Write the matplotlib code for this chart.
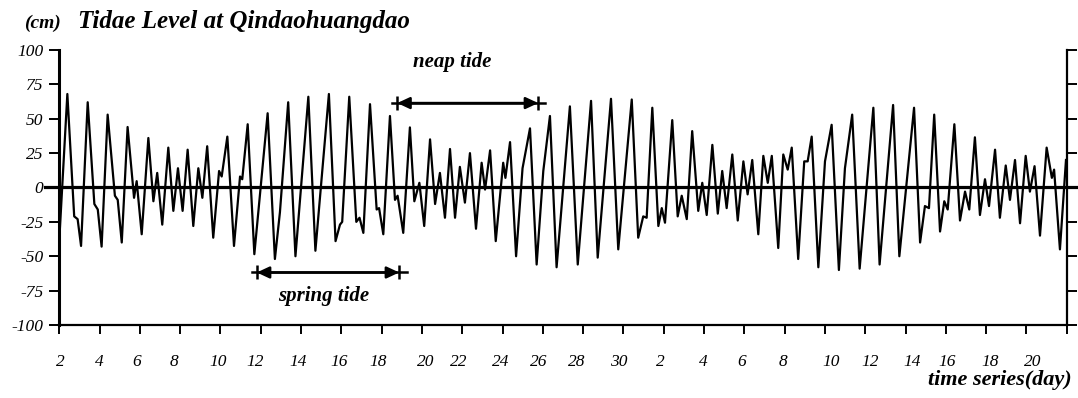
import matplotlib.pyplot as plt

plt.rcParams['font.family'] = ['Liberation Serif', 'DejaVu Serif']
plt.rcParams['axes.unicode_minus'] = False

# turning points of the tide curve: time in days from the start of the record, level in cm
t_day = [0.00, 0.40, 0.74, 0.91, 1.08, 1.41, 1.74, 1.91, 2.10, 2.40,
         2.76, 2.90, 3.10, 3.39, 3.71, 3.84, 4.09, 4.42, 4.67, 4.86,
         5.11, 5.41, 5.66, 5.89, 6.12, 6.37, 6.65, 6.90, 7.10, 7.34,
         7.64, 7.93, 8.06, 8.34, 8.67, 8.97, 9.08, 9.35, 9.68,
         10.34, 10.70, 10.95, 11.36, 11.72, 12.36, 12.71, 13.38, 13.71, 13.93,
         14.04, 14.39, 14.74, 14.90, 15.09, 15.42, 15.75, 15.87, 16.08, 16.41,
         16.66, 16.79, 17.07, 17.40, 17.62, 17.87, 18.11, 18.40, 18.65, 18.89,
         19.14, 19.39,
         19.64, 19.88, 20.13, 20.38, 20.68, 20.96, 21.13, 21.38, 21.66, 22.03,
         22.14, 22.37, 22.67, 22.99, 23.36, 23.69, 24.02, 24.35, 24.68, 25.34,
         25.73, 26.39, 26.72, 27.38, 27.74, 28.41, 28.73, 28.98, 29.15, 29.43,
         29.73, 29.90, 30.06, 30.42, 30.69, 30.89, 31.14, 31.41, 31.71, 31.91,
         32.13, 32.41, 32.68, 32.90, 33.12, 33.40, 33.67, 33.95, 34.16, 34.39,
         34.69, 34.94, 35.16, 35.36, 35.68, 35.93, 36.15, 36.35, 36.67, 36.97,
         37.14, 37.34, 37.67, 38.00, 38.33, 38.69, 38.99, 39.35,
         39.72, 40.40, 40.71, 41.38, 41.69, 42.42, 42.72, 42.96, 43.16, 43.42,
         43.71, 43.92, 44.09, 44.42, 44.70, 44.95, 45.16, 45.44, 45.69, 45.94,
         46.14, 46.44, 46.68, 46.97, 47.18, 47.43, 47.68, 47.96, 48.17, 48.40,
         48.67, 49.00, 49.26, 49.37, 49.66, 49.96]
level_cm = [-38, 68, -21, -23, -42.5, 62, -12, -16, -43, 53,
            -6, -9, -40, 44, -7.5, 4.6, -34, 36, -10, 10.6,
            -27, 29, -17, 14, -17, 27.5, -28, 14, -7.5, 30,
            -36.5, 12, 8, 37, -42.5, 8, 6, 46, -48.5,
            54, -52, -18, 62, -50, 66, -46, 68, -39, -27,
            -25, 66, -25, -22, -33, 60.6, -16, -15, -34, 52,
            -9, -6, -33, 43.7, -10, 3.4, -28, 35, -12, 10.6,
            -22, 28,
            -22, 15, -11, 25, -30, 18, -1.5, 27, -39, 18,
            7, 33, -50, 14, 43, -56, 12, 52, -58, 59,
            -56, 63, -51, 64.5, -45, 64, -36.5, -21, -22, 58,
            -28, -15, -25.6, 49, -21, -6, -23, 41, -17, 3.4,
            -20, 31, -19, 12, -15, 24, -24, 19, -5, 20,
            -34, 23, 3.4, 23, -44, 24, 13, 29, -52, 19,
            19, 37, -58, 19, 45.6, -60, 14, 53,
            -59, 58, -56, 60, -50, 58, -40, -13.5, -15, 53,
            -32, -10, -16, 46, -24, -3, -16, 36.5, -20, 6,
            -13.5, 27.5, -22, 16, -9, 20, -26, 23, -3, 15.5,
            -35, 29, 7, 13, -45, 20]

y_ticks = [-100, -75, -50, -25, 0, 25, 50, 75, 100]
x_ticks = list(range(0, 51, 2))
day_labels = ['2', '4', '6', '8', '10', '12', '14', '16', '18', '20', '22', '24', '26',
              '28', '30', '2', '4', '6', '8', '10', '12', '14', '16', '18', '20']
day_label_pos = [0.03, 1.99, 3.84, 5.69, 7.89, 9.71, 11.86, 13.90, 15.83, 18.20, 19.80,
                 21.92, 23.81, 25.68, 27.79, 29.85, 31.96, 33.87, 35.93, 38.30, 40.23,
                 42.33, 44.04, 46.19, 48.31]

# spans of the two arrows: (line start, bar, bar, line end) in days, and height in cm
neap_span = (16.50, 16.77, 23.77, 24.10)
neap_y = 61.4
spring_span = (9.55, 9.80, 16.87, 17.24)
spring_y = -61.8

fig = plt.figure(figsize=(10.78, 3.98), dpi=100)
ax = fig.add_axes([0.0550, 0.1834, 0.9346, 0.6910])

ax.plot(t_day, level_cm, color='black', lw=1.6, solid_joinstyle='round')

# zero line runs a little past both spines
ax.plot([-0.014, 1.012], [0, 0], color='black', lw=2.3,
        transform=ax.get_yaxis_transform(), clip_on=False)

ax.set_xlim(0, 50)
ax.set_ylim(-100, 100)
ax.set_yticks(y_ticks)
ax.set_yticklabels([str(v) for v in y_ticks], fontsize=12.5, style='italic')
ax.set_xticks(x_ticks)
ax.set_xticklabels([])

ax.spines['top'].set_visible(False)
ax.spines['left'].set_linewidth(2.2)
ax.spines['bottom'].set_linewidth(1.6)
ax.spines['right'].set_linewidth(1.6)
ax.tick_params(axis='y', left=True, right=True, direction='out', length=7.5,
               width=1.4, pad=4)
ax.tick_params(axis='x', direction='out', length=6.5, width=1.4)

for pos, lab in zip(day_label_pos, day_labels):
    ax.text(pos, -0.135, lab, transform=ax.get_xaxis_transform(), ha='center',
            va='center', fontsize=12.5, style='italic')

for span, yv in [(neap_span, neap_y), (spring_span, spring_y)]:
    ax.plot([span[0], span[3]], [yv, yv], color='black', lw=1.8)
    ax.annotate('', xy=(span[1], yv), xytext=(span[2], yv),
                arrowprops=dict(arrowstyle='<|-|>,head_length=0.75,head_width=0.35',
                                mutation_scale=10, lw=1.8, color='black',
                                shrinkA=0, shrinkB=0))
    ax.plot([span[1], span[2]], [yv, yv], ls='none', marker='|', ms=10,
            mew=1.8, color='black')

ax.text(19.51, 91.5, 'neap tide', ha='center', va='center', fontsize=15,
        style='italic', weight='bold')
ax.text(13.13, -78.8, 'spring tide', ha='center', va='center', fontsize=15,
        style='italic', weight='bold')

fig.text(24 / 1078, 1 - 27.7 / 398, '(cm)', fontsize=14, style='italic',
         weight='bold', va='baseline')
fig.text(78 / 1078, 1 - 27.7 / 398, 'Tidae Level at Qindaohuangdao', fontsize=18,
         style='italic', weight='bold', va='baseline')
fig.text(0.9942, 1 - 380 / 398, 'time series(day)', fontsize=16, style='italic',
         weight='bold', ha='right', va='center')

fig.savefig('out.png', dpi=100)
